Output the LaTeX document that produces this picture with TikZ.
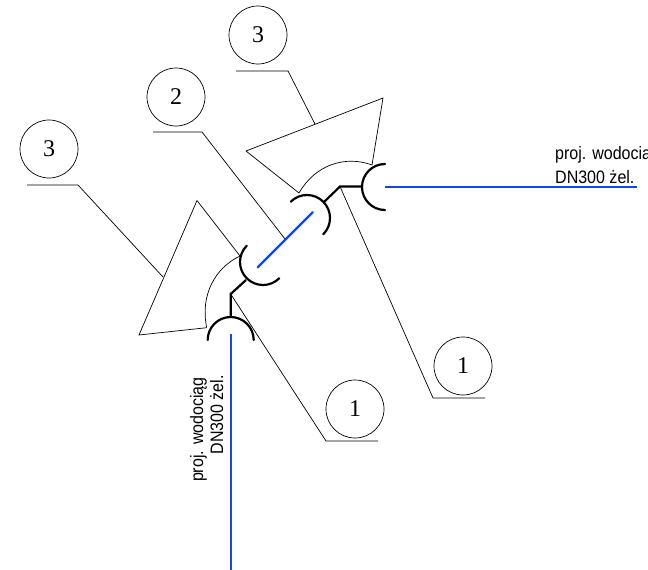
\documentclass[tikz,border=0pt]{standalone}
\usepackage{fontspec}
\setmainfont{Liberation Sans}
\newfontfamily\numfont{Liberation Serif}
\newfontfamily\pipefont[FakeStretch=0.89]{Liberation Sans}
\tikzset{
	pipe/.style={line width=2.2pt, black},
	water/.style={line width=2.4pt, color=waterblue},
	leader/.style={line width=0.7pt, black},
	numcircle/.style={circle, draw, line width=0.7pt, minimum size=58pt, inner sep=0pt, font=\numfont\fontsize{24}{24}\selectfont},
	pipetext/.style={inner sep=0pt, font=\pipefont\fontsize{18}{18}\selectfont}
}
\definecolor{waterblue}{RGB}{13,71,240}
\begin{document}
\begin{tikzpicture}[x=1pt, y=-1pt]
	\useasboundingbox (0,0) rectangle (648,570);
	
	\def\r{23pt}
	
	% numbered circles
	\node[numcircle] (n3a) at (258,35) {3};
	\node[numcircle] (n2) at (176,97) {2};
	\node[numcircle] (n3b) at (49,149) {3};
	\node[numcircle] (n1a) at (463,366) {1};
	\node[numcircle] (n1b) at (355,409) {1};
	
	% points of the pipes
	\coordinate (capR) at (385,187);
	\coordinate (capM) at (307,218);
	\coordinate (capL) at (263,262);
	\coordinate (capB) at (230.7,340);
	\coordinate (kneeR) at (340,186.5);
	\coordinate (kneeL) at (230.7,294);
	
	% the two wedges
	\coordinate (upA) at (383,98);
	\coordinate (upB) at (246,151);
	\coordinate (upC) at (299,193);
	\coordinate (upD) at (372,165);
	\coordinate (loA) at (197,200.5);
	\coordinate (loB) at (139,335);
	\coordinate (loC) at (206.7,327.7);
	\coordinate (loD) at (240,256);
	
	\draw[leader] (upD) -- (upA) -- (upB) -- (upC);
	\draw[leader] (upC) .. controls (315,165) and (345,155) .. (upD);
	\draw[leader] (loD) -- (loA) -- (loB) -- (loC);
	\draw[leader] (loC) .. controls (200,295) and (215,268) .. (loD);
	
	% leaders
	\coordinate (l3aL) at (236,71);
	\coordinate (l3aR) at (288,71);
	\coordinate (l3aE) at (315,124);
	\coordinate (l2L) at (153,132);
	\coordinate (l2R) at (202,132);
	\coordinate (l2E) at (285,239);
	\coordinate (l3bL) at (27,185);
	\coordinate (l3bR) at (78,185);
	\coordinate (l3bE) at (163,277);
	\coordinate (l1aL) at (433,398);
	\coordinate (l1aR) at (485,398);
	\coordinate (l1bL) at (326,441);
	\coordinate (l1bR) at (378,441);
	
	\draw[leader] (l3aL) -- (l3aR) -- (l3aE);
	\draw[leader] (l2L) -- (l2R) -- (l2E);
	\draw[leader] (l3bL) -- (l3bR) -- (l3bE);
	\draw[leader] (l1aR) -- (l1aL) -- (kneeR);
	\draw[leader] (l1bR) -- (l1bL) -- (kneeL);
	
	% water main
	\coordinate (wR) at (637,187);
	\coordinate (wRs) at (385,187);
	\coordinate (wMa) at (312.7,212.3);
	\coordinate (wMb) at (257.7,267.3);
	\coordinate (wBs) at (230.7,334);
	\coordinate (wB) at (230.7,570);
	\draw[water] (wRs) -- (wR);
	\draw[water, line cap=round] (wMa) -- (wMb);
	\draw[water] (wBs) -- (wB);
	
	% sockets
	\draw[pipe, line cap=round] (capR) ++(90:\r) arc[start angle=90, end angle=270, radius=\r];
	\draw[pipe, line cap=round] (capM) ++(135:\r) arc[start angle=135, end angle=-45, radius=\r];
	\draw[pipe, line cap=round] (capL) ++(135:\r) arc[start angle=135, end angle=315, radius=\r];
	\draw[pipe, line cap=round] (capB) ++(180:\r) arc[start angle=180, end angle=0, radius=\r];
	
	\coordinate (stubR) at (362,186.5);
	\coordinate (stubM) at (324,202);
	\coordinate (stubL) at (246,280);
	\coordinate (stubB) at (230.7,317);
	\draw[pipe] (stubR) -- (kneeR) -- (stubM);
	\draw[pipe] (stubL) -- (kneeL) -- (stubB);
	
	% texts
	\node[pipetext, anchor=base west] (tR1) at (555,159) {proj. wodociąg};
	\node[pipetext, anchor=base west] (tR2) at (555,183) {DN300 żel.};
	\node[pipetext, anchor=base east, rotate=90] (tB1) at (203,377) {proj. wodociąg};
	\node[pipetext, anchor=base east, rotate=90] (tB2) at (223,375) {DN300 żel.};
\end{tikzpicture}
\end{document}
